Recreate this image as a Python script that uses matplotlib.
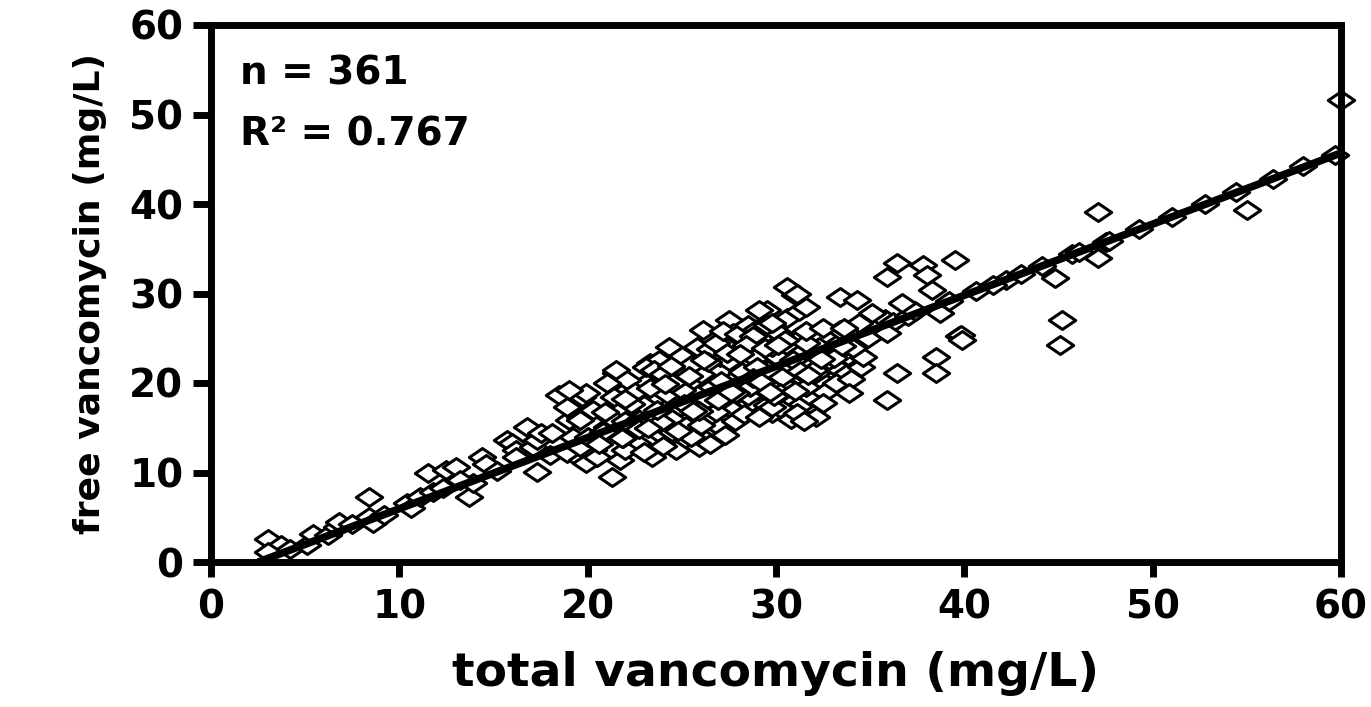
import matplotlib
matplotlib.use("Agg")
import matplotlib.pyplot as plt
from matplotlib.path import Path
import numpy as np

plt.rcParams['font.family'] = ['DejaVu Sans']
plt.rcParams['font.weight'] = 'bold'

# total vancomycin (mg/L)
total = [
    3.0, 3.7, 3.0, 4.2, 5.1, 5.4, 6.2, 6.7, 6.8, 7.5, 8.4, 8.4, 8.6, 9.2, 10.4, 10.6, 11.1, 11.5, 11.8, 12.5,
    12.3, 13.0, 13.7, 13.9, 13.2, 14.4, 14.6, 15.2, 15.7, 16.0, 16.8, 16.2, 16.2, 17.1, 17.3, 17.3, 17.5, 18.1,
    18.0, 18.5, 19.4, 19.7, 19.9, 19.0, 19.6, 19.2, 18.9, 19.7, 19.9, 20.3, 19.6, 20.5, 21.3, 18.9, 20.3, 19.6,
    19.0,
    29.5, 27.5, 26.1, 27.7, 24.3, 25.8, 23.3, 21.5, 24.7, 27.0, 28.4, 29.5, 29.1, 27.7, 22.1, 23.1, 25.6, 26.3,
    24.9, 23.4, 27.7, 29.1, 29.8, 27.0, 26.3, 25.3, 23.8, 22.4, 21.0, 21.7, 21.7, 23.4, 24.7, 25.9, 22.6, 21.5,
    22.1, 23.8, 23.1, 21.0,
    20.0, 20.8, 21.2, 22.0, 22.8, 23.0, 23.6, 24.2, 24.5, 25.0, 25.2, 25.8, 26.0, 26.6, 26.8, 27.2, 27.5, 28.0,
    28.2, 28.6, 28.9, 29.3, 29.6, 30.0, 30.4, 30.8, 31.2, 31.5, 31.9, 32.3, 32.6, 33.0, 33.4, 33.8, 34.2, 34.9,
    35.4, 35.8, 36.2, 37.0, 37.4,
    22.5, 23.5, 24.0, 24.5, 25.0, 25.5, 26.5, 26.8, 27.2, 28.0, 28.5, 29.0, 29.5, 30.2, 30.6, 31.0, 31.2,
    22.0, 23.0, 24.0, 24.5, 25.5, 26.0, 26.5, 27.3, 27.8, 28.3, 28.5, 29.5, 30.2, 30.8, 31.4, 31.8, 32.6, 33.2,
    34.0, 34.5,
    39.5, 36.4, 37.8, 35.9, 38.0, 38.3, 36.7, 38.7, 35.9, 39.7, 38.5, 38.5, 36.4, 35.9, 33.9, 30.6, 31.1, 33.4,
    34.3, 31.6, 29.1, 35.1, 33.4, 34.4, 29.8, 28.8, 29.8, 31.6, 33.4, 34.6, 32.8, 30.9, 29.0, 30.3, 32.1, 28.6,
    30.2, 31.6, 32.5, 31.1, 29.8, 29.1, 32.1, 31.5,
    60.0, 47.1, 47.1, 55.0, 44.8, 45.2, 45.1, 39.8, 39.9,
    40.6, 42.2, 44.1, 45.7, 46.1, 47.5, 47.7, 49.3, 51.0, 52.8, 54.4, 56.4, 58.0, 59.7, 39.2, 41.5, 43.0,
    20.6, 21.4, 21.9, 22.3, 22.7, 23.3, 23.9, 24.4, 24.8, 25.4, 25.9, 26.4, 26.9, 27.4, 27.9, 28.4, 28.8,
    29.4, 29.9, 30.5, 31.0, 31.6, 32.0, 32.5, 33.1, 33.6, 34.1, 20.9, 22.0, 23.2, 24.1, 25.1, 26.2, 27.1,
    28.1, 29.2, 30.1, 31.3, 32.4, 33.5, 21.8, 23.7, 25.6, 27.6, 29.7, 31.7,
]

# free vancomycin (mg/L)
free = [
    2.6, 1.9, 1.1, 1.5, 1.9, 3.1, 3.0, 3.9, 4.5, 4.2, 7.3, 5.0, 4.4, 5.2, 6.6, 6.0, 7.3, 9.9, 7.8, 10.3,
    8.3, 10.6, 7.3, 8.8, 9.2, 11.7, 11.0, 10.2, 13.6, 13.3, 15.1, 12.5, 11.7, 12.8, 10.1, 13.6, 14.4, 14.4,
    12.0, 18.7, 17.8, 18.4, 18.9, 15.9, 16.2, 14.0, 12.2, 11.4, 11.1, 12.5, 12.8, 11.7, 9.5, 17.3, 17.0, 15.9,
    19.2,
    28.2, 27.0, 25.9, 25.6, 24.0, 24.0, 22.2, 21.1, 22.2, 22.9, 23.7, 24.5, 20.7, 20.3, 19.2, 20.0, 20.3, 18.1,
    17.3, 18.1, 17.0, 18.1, 16.6, 15.1, 13.6, 13.6, 14.4, 14.7, 15.1, 17.0, 11.4, 11.7, 12.5, 12.8, 13.3, 21.5,
    20.3, 22.6, 21.8, 20.0,
    14.0, 14.5, 16.2, 15.8, 16.0, 17.5, 16.2, 18.8, 16.0, 19.2, 15.2, 17.0, 21.0, 19.5, 16.8, 18.5, 22.5, 19.8,
    21.2, 17.8, 22.8, 19.2, 21.5, 23.0, 19.8, 21.9, 23.2, 20.5, 22.2, 24.0, 20.0, 22.0, 24.6, 23.0, 25.2, 25.0,
    26.5, 27.2, 26.8, 27.5, 28.0,
    19.0, 21.5, 21.0, 20.0, 23.0, 22.0, 23.8, 24.5, 25.8, 25.5, 26.5, 26.0, 26.5, 25.5, 27.3, 29.8, 28.0,
    12.5, 12.3, 13.0, 14.5, 14.0, 15.3, 13.2, 14.2, 15.8, 16.5, 18.5, 17.5, 17.2, 16.0, 17.6, 18.6, 19.0, 20.0,
    20.5, 21.8,
    33.7, 33.4, 33.2, 31.8, 32.1, 30.4, 28.9, 27.8, 25.6, 25.2, 22.9, 21.1, 21.1, 18.1, 18.9, 30.7, 30.0, 29.6,
    29.3, 28.5, 28.2, 27.8, 25.9, 26.7, 26.7, 25.2, 24.0, 24.5, 23.7, 22.9, 22.6, 22.6, 21.8, 20.7, 21.1, 19.6,
    18.9, 19.6, 17.8, 16.6, 17.3, 16.2, 16.2, 15.8,
    51.6, 39.1, 34.0, 39.3, 31.7, 27.0, 24.2, 25.4, 24.8,
    30.3, 31.5, 33.1, 34.4, 34.6, 35.8, 35.9, 37.2, 38.6, 40.0, 41.3, 42.8, 44.2, 45.5, 29.2, 31.0, 32.2,
    13.2, 18.4, 13.8, 17.6, 14.9, 19.4, 15.6, 21.9, 14.6, 20.8, 16.9, 22.4, 18.1, 23.4, 18.9, 24.3, 20.6,
    23.9, 18.5, 24.8, 19.1, 25.8, 21.4, 26.2, 22.8, 26.1, 23.9, 16.8, 18.2, 15.0, 19.9, 17.6, 22.6, 20.2,
    23.2, 20.1, 24.2, 21.3, 22.7, 24.1, 13.9, 17.0, 16.9, 19.0, 19.0, 20.9,
]

# regression line
slope = 0.795
intercept = -2.0
fit_x = [2.5, 60.0]

xticks = [0, 10, 20, 30, 40, 50, 60]
yticks = [0, 10, 20, 30, 40, 50, 60]

fig = plt.figure(figsize=(13.71, 7.07), dpi=100)
ax = fig.add_axes([211 / 1371, 1 - 562 / 707, (1341 - 211) / 1371, (562 - 25) / 707])

diamond = Path([(-1, 0), (0, 0.68), (1, 0), (0, -0.68), (-1, 0)],
               [Path.MOVETO, Path.LINETO, Path.LINETO, Path.LINETO, Path.CLOSEPOLY])

ax.plot(total, free, linestyle='none', marker=diamond, markersize=19,
        markerfacecolor='white', markeredgecolor='black', markeredgewidth=2.2,
        clip_on=False, zorder=3)

fx = np.array(fit_x)
ax.plot(fx, slope * fx + intercept, color='black', linewidth=5.5, zorder=4,
        solid_capstyle='butt')

ax.set_xlim(0, 60)
ax.set_ylim(0, 60)
ax.set_xticks(xticks)
ax.set_yticks(yticks)
ax.set_xticklabels([str(t) for t in xticks])
ax.set_yticklabels([str(t) for t in yticks])

for s in ax.spines.values():
    s.set_linewidth(5)
    s.set_zorder(5)

ax.tick_params(axis='x', direction='out', length=11, width=5, pad=8, labelsize=28)
ax.tick_params(axis='y', direction='out', length=13, width=5, pad=7, labelsize=28)

ax.set_xlabel('total vancomycin (mg/L)', fontsize=34, fontweight='bold', labelpad=18)
ax.set_ylabel('free vancomycin (mg/L)', fontsize=26, fontweight='bold', labelpad=16)

ax.text(1.55, 53.4, 'n = 361', fontsize=28, fontweight='bold', ha='left', va='baseline')
ax.text(1.55, 46.5, 'R² = 0.767', fontsize=28, fontweight='bold', ha='left', va='baseline')

fig.savefig('out.png', dpi=100, facecolor='white')
